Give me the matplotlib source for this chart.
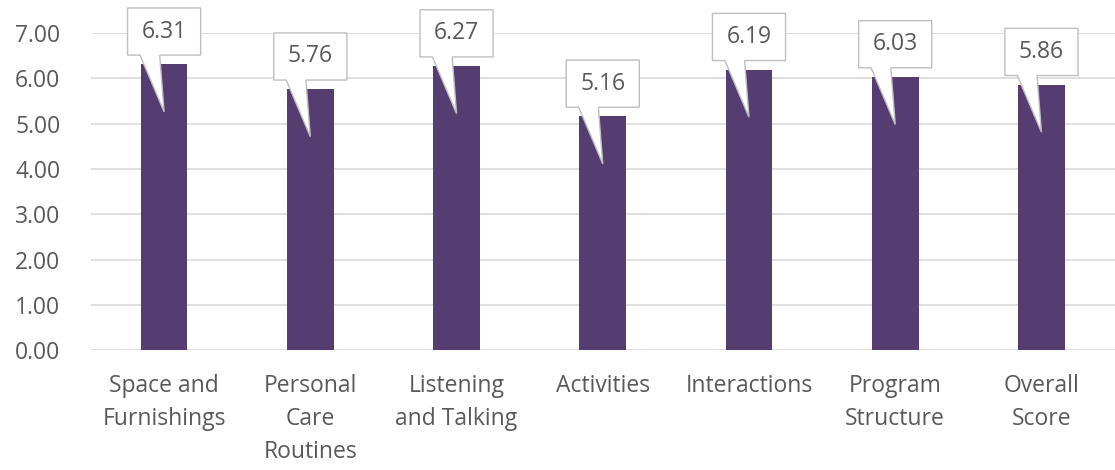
import matplotlib
matplotlib.use("Agg")
import matplotlib.pyplot as plt
from matplotlib.patches import Polygon

categories = ["Space and\nFurnishings", "Personal\nCare\nRoutines",
              "Listening\nand Talking", "Activities", "Interactions",
              "Program\nStructure", "Overall\nScore"]
scores = [6.31, 5.76, 6.27, 5.16, 6.19, 6.03, 5.86]
yticks = [0, 1, 2, 3, 4, 5, 6, 7]

BAR = "#553d71"
TXT = "#595959"
GRID = "#d9d9d9"
FS = 16.5

plt.rcParams["font.family"] = ["Open Sans", "DejaVu Sans"]

fig = plt.figure(figsize=(11.15, 4.70), dpi=100)
ax = fig.add_axes([0.0816, 0.255, 0.918, 0.675])

x = list(range(len(scores)))
ax.bar(x, scores, width=0.32, color=BAR, zorder=2)

ax.set_xlim(-0.5, len(scores) - 0.5)
ax.set_ylim(0, 7)
ax.set_yticks(yticks)
ax.set_yticklabels([f"{v:.2f}" for v in yticks], fontsize=FS, color=TXT)
ax.set_xticks(x)
ax.set_xticklabels(categories, fontsize=FS, color=TXT, linespacing=1.52,
                   va="top")
ax.tick_params(length=0)
ax.tick_params(axis="y", pad=22)
ax.tick_params(axis="x", pad=17)
ax.grid(axis="y", color=GRID, linewidth=1.2, zorder=0)
for s in ax.spines.values():
    s.set_visible(False)

# callout data labels: box above the bar with a wedge pointing into it
bw, bh = 0.25, 1.04
for xi, v in zip(x, scores):
    y0 = v + 0.2
    y1 = y0 + bh
    tip = v - 1.05
    pts = [(xi - bw, y0), (xi - 0.165, y0), (xi, tip), (xi - 0.03, y0),
           (xi + bw, y0), (xi + bw, y1), (xi - bw, y1)]
    ax.add_patch(Polygon(pts, closed=True, facecolor="white",
                         edgecolor="#bfbfbf", linewidth=1.0,
                         zorder=3, clip_on=False))
    ax.text(xi, (y0 + y1) / 2, f"{v:.2f}", ha="center", va="center",
            fontsize=FS, color=TXT, zorder=4, clip_on=False)

fig.savefig("out.png", dpi=100, facecolor="white")
